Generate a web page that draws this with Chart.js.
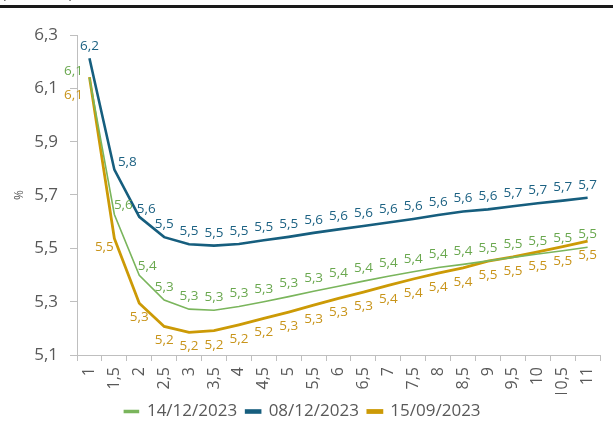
<!DOCTYPE html>
<html lang="pt">
<head>
<meta charset="UTF-8">
<title>Curva</title>
<script src="https://cdn.jsdelivr.net/npm/chart.js"></script>
<style>
    body { margin: 0; background: #fff; font-family: 'Open Sans', sans-serif; }
    .wrap { position: relative; width: 613px; height: 430px; overflow: hidden; }
    .topnote { position: absolute; left: 2px; top: -17px; font-size: 14px; color: #404040; }
    .topline { position: absolute; left: 0; right: 0; top: 5px; height: 3px; background: #1a1a1a; }
    canvas { position: absolute; left: 0; top: 0; }
</style>
</head>
<body>
<div class="wrap">
    <canvas id="chart" width="613" height="430"></canvas>
    <div class="topnote">(em % a.a.)</div>
    <div class="topline"></div>
</div>
<script>
// vértices (anos)
const prazos = ['1', '1,5', '2', '2,5', '3', '3,5', '4', '4,5', '5', '5,5', '6', '6,5',
                '7', '7,5', '8', '8,5', '9', '9,5', '10', '10,5', '11'];
const serie1412 = [6.14, 5.627, 5.399, 5.306, 5.272, 5.268, 5.282, 5.300, 5.319, 5.339, 5.358,
                   5.377, 5.395, 5.412, 5.428, 5.440, 5.453, 5.466, 5.479, 5.491, 5.504];
const serie0812 = [6.213, 5.795, 5.618, 5.542, 5.515, 5.510, 5.516, 5.530, 5.543, 5.558, 5.571,
                   5.584, 5.597, 5.610, 5.625, 5.638, 5.646, 5.658, 5.669, 5.679, 5.690];
const serie1509 = [6.142, 5.537, 5.294, 5.207, 5.185, 5.191, 5.213, 5.237, 5.261, 5.287, 5.312,
                   5.336, 5.361, 5.385, 5.407, 5.427, 5.452, 5.468, 5.487, 5.506, 5.527];
const yTicks = [5.1, 5.3, 5.5, 5.7, 5.9, 6.1, 6.3];

const fmt = v => v.toFixed(1).replace('.', ',');

// rótulos de dados (sem plugin externo)
const rotulos = {
    id: 'rotulos',
    afterDatasetsDraw(chart, args, opts) {
        const ctx = chart.ctx;
        ctx.save();
        ctx.font = '13.5px "Open Sans", sans-serif';
        ctx.textAlign = 'center';
        ctx.textBaseline = 'middle';
        chart.data.datasets.forEach((ds, di) => {
            const cfg = opts.series[di];
            const meta = chart.getDatasetMeta(di);
            ctx.fillStyle = cfg.color;
            meta.data.forEach((pt, i) => {
                const off = cfg.special[i] || [0, cfg.dy];
                ctx.fillText(fmt(ds.data[i]), pt.x + off[0], pt.y + off[1]);
            });
        });
        ctx.restore();
    }
};

new Chart(document.getElementById('chart'), {
    type: 'line',
    data: {
        labels: prazos,
        datasets: [
            { label: '14/12/2023', data: serie1412, borderColor: '#7ab55c', backgroundColor: '#7ab55c', borderWidth: 1.6 },
            { label: '08/12/2023', data: serie0812, borderColor: '#165e7e', backgroundColor: '#165e7e', borderWidth: 2.6 },
            { label: '15/09/2023', data: serie1509, borderColor: '#cc9a06', backgroundColor: '#cc9a06', borderWidth: 2.8 }
        ]
    },
    options: {
        responsive: false,
        animation: false,
        elements: { point: { radius: 0 }, line: { tension: 0 } },
        layout: { padding: { top: 35, right: 8, left: 0, bottom: 0 } },
        plugins: {
            legend: {
                position: 'bottom',
                labels: {
                    boxWidth: 14, boxHeight: 2, padding: 9,
                    color: '#595959',
                    font: { family: 'Open Sans', size: 17 }
                }
            },
            tooltip: { enabled: false },
            rotulos: {
                series: [
                    { color: '#6aa84f', dy: -13, special: { 0: [-16, -7], 1: [9, -9], 2: [8, -9] } },
                    { color: '#1d6283', dy: -13, special: { 0: [0, -12], 1: [13, -8], 2: [7, -8] } },
                    { color: '#c8941a', dy: 14, special: { 0: [-16, 18], 1: [-10, 9] } }
                ]
            }
        },
        scales: {
            x: {
                offset: true,
                border: { color: '#bfbfbf' },
                grid: { display: true, drawOnChartArea: false, offset: true, tickLength: 6, color: '#bfbfbf' },
                ticks: {
                    minRotation: 90, maxRotation: 90, autoSkip: false, padding: 6,
                    color: '#595959', font: { family: 'Open Sans', size: 16 }
                },
                afterFit: s => { s.height = 39; }
            },
            y: {
                min: 5.1, max: 6.3,
                afterBuildTicks: s => { s.ticks = yTicks.map(v => ({ value: v })); },
                border: { color: '#bfbfbf' },
                grid: { display: true, drawOnChartArea: false, tickLength: 7, color: '#bfbfbf' },
                ticks: {
                    padding: 12, color: '#595959',
                    font: { family: 'Open Sans', size: 17 },
                    callback: v => fmt(v)
                },
                title: { display: true, text: '%', color: '#595959', font: { family: 'Open Sans', size: 12 }, padding: { top: 12, bottom: 0 } },
                afterFit: s => { s.width = 77; }
            }
        }
    },
    plugins: [rotulos]
});
</script>
</body>
</html>
